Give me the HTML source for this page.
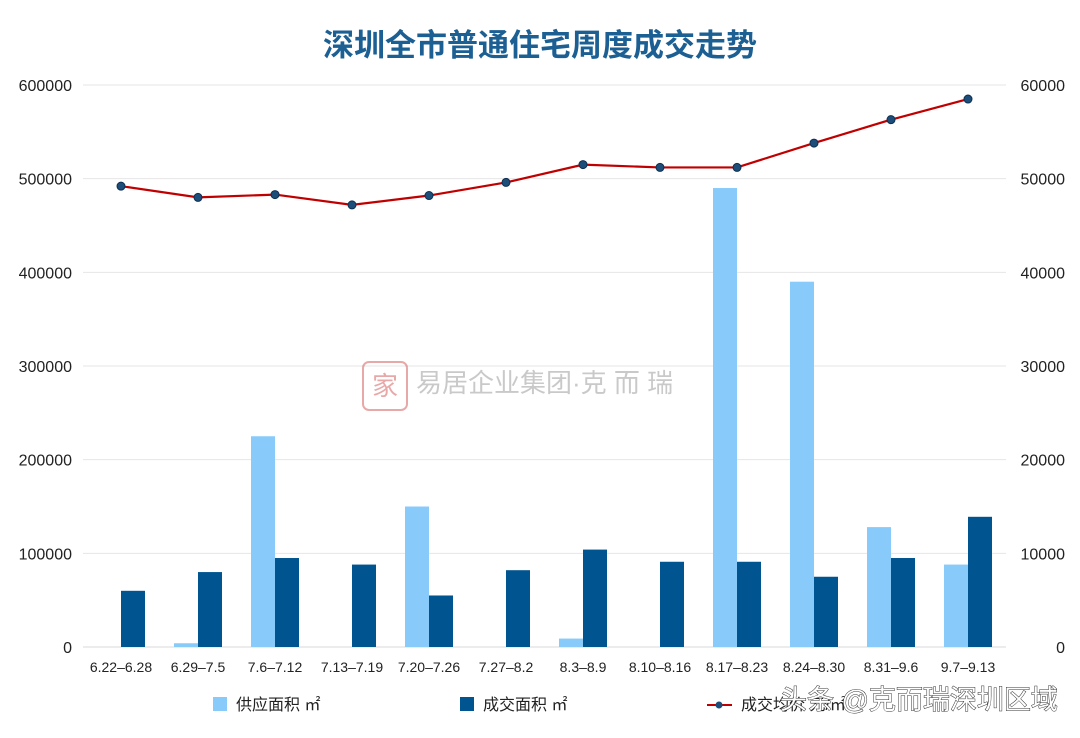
<!DOCTYPE html>
<html><head><meta charset="utf-8"><style>
body{margin:0;background:#fff;}
svg text{font-family:"Liberation Sans","Noto Sans CJK SC",sans-serif;}
</style></head><body>
<svg id="chart" width="1080" height="733" viewBox="0 0 1080 733" xmlns="http://www.w3.org/2000/svg">
<rect width="1080" height="733" fill="#fff"/>
<text x="540" y="56" text-anchor="middle" font-size="31" font-weight="bold" fill="#1b5f93" style="font-family:'Noto Sans CJK SC',sans-serif">深圳全市普通住宅周度成交走势</text>
<g id="grid"></g><g id="bars"></g><g id="line"></g><g id="axes"></g>
<g opacity="0.45">
<rect x="363" y="362" width="44" height="48" rx="6" fill="none" stroke="#d04040" stroke-width="2"/>
<text x="385" y="395" text-anchor="middle" font-size="26" fill="#d04040">家</text>
<text x="416" y="392" font-size="26" fill="#888">易居企业集团·克 而 瑞</text>
</g>
<g>
<rect x="213" y="697" width="14" height="14" fill="#88cbfb"/>
<text x="236" y="710" font-size="16" fill="#222">供应面积 ㎡</text>
<rect x="460" y="697" width="14" height="14" fill="#00548f"/>
<text x="483" y="710" font-size="16" fill="#222">成交面积 ㎡</text>
<line x1="707" y1="705" x2="732" y2="705" stroke="#c00000" stroke-width="2"/>
<circle cx="719" cy="705" r="3.5" fill="#1d4e7a"/>
<text x="741" y="710" font-size="16" fill="#222">成交均价 元/㎡</text>
</g>
<text x="780" y="709" font-size="27" fill="#fff" stroke="#333" stroke-width="1" paint-order="stroke">头条 @克而瑞深圳区域</text>
</svg>
<script>
const categories=["6.22–6.28","6.29–7.5","7.6–7.12","7.13–7.19","7.20–7.26","7.27–8.2","8.3–8.9","8.10–8.16","8.17–8.23","8.24–8.30","8.31–9.6","9.7–9.13"];
const supply=[0,4000,225000,0,150000,0,9000,0,490000,390000,128000,88000];
const deal=[60000,80000,95000,88000,55000,82000,104000,91000,91000,75000,95000,139000];
const price=[49200,48000,48300,47200,48200,49600,51500,51200,51200,53800,56300,58500];
const leftTicks=[0,100000,200000,300000,400000,500000,600000];
const rightTicks=[0,10000,20000,30000,40000,50000,60000];
const NS="http://www.w3.org/2000/svg";
const x0=82.5,step=77,y0=647,yTop=85;
const yL=v=>y0-(v/600000)*(y0-yTop);
const yR=v=>y0-(v/60000)*(y0-yTop);
const xC=i=>x0+step*(i+0.5);
function mk(tag,attrs,parent){const e=document.createElementNS(NS,tag);for(const k in attrs)e.setAttribute(k,attrs[k]);document.getElementById(parent).appendChild(e);return e;}
leftTicks.forEach((t,i)=>{
 const g=mk("line",{x1:83,x2:1006,y1:yL(t),y2:yL(t),stroke:i==0?"#d8d8d8":"#e6e6e6","stroke-width":1},"grid");
 
 
 const l=mk("text",{x:72,y:yL(t)+6,"text-anchor":"end","font-size":16,fill:"#222"},"axes");
 l.textContent=t;
 
 
});
rightTicks.forEach(t=>{
 const l=mk("text",{x:1065,y:yR(t)+6,"text-anchor":"end","font-size":16,fill:"#222"},"axes");
 l.textContent=t;
 
 
});
const bw=24;
categories.forEach((c,i)=>{
 const cx=xC(i);
 const a=mk("rect",{x:cx-bw,y:yL(supply[i]),width:bw,height:y0-yL(supply[i]),fill:"#88cbfb"},"bars");
 
 
 const b=mk("rect",{x:cx,y:yL(deal[i]),width:bw,height:y0-yL(deal[i]),fill:"#00548f"},"bars");
 
 
 const l=mk("text",{x:cx,y:672,"text-anchor":"middle","font-size":14,fill:"#222"},"axes");
 l.textContent=c;
 
 
});
const pts=price.map((v,i)=>xC(i)+","+yR(v)).join(" ");
const pl=mk("polyline",{points:pts,fill:"none",stroke:"#c00000","stroke-width":2.2},"line");


price.forEach((v,i)=>{
 const c=mk("circle",{cx:xC(i),cy:yR(v),r:4,fill:"#1d4e7a",stroke:"#0d2e50","stroke-width":1},"line");
 
 
});
</script>
</body></html>
